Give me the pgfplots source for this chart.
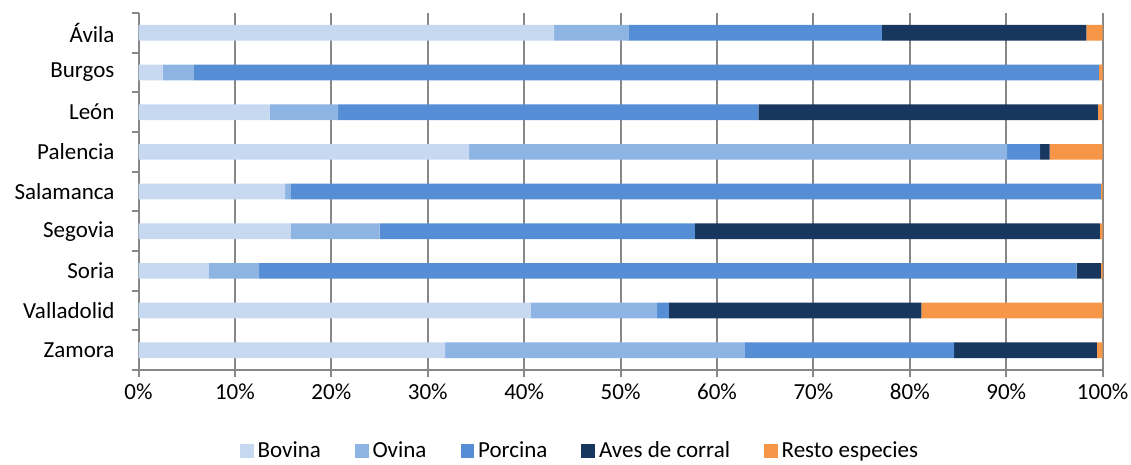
\documentclass[border=0pt]{standalone}
\usepackage{fontspec}
\setmainfont{Carlito}
\usepackage{pgfplots}
\usepackage{pgfplotstable}
\pgfplotsset{compat=1.18}

\definecolor{bovina}{HTML}{C6D9F1}
\definecolor{ovina}{HTML}{8EB4E3}
\definecolor{porcina}{HTML}{558ED5}
\definecolor{aves}{HTML}{17375E}
\definecolor{resto}{HTML}{F79646}
\definecolor{gridgray}{HTML}{878787}

% share of each species per province (%)
\pgfplotstableread{
idx bovina ovina porcina aves resto
0   43.1   7.7   26.3    21.2 1.7
1   2.5    3.2   93.9    0.0  0.4
2   13.6   7.1   43.6    35.2 0.5
3   34.3   55.8  3.4     1.0  5.5
4   15.2   0.6   84.0    0.0  0.2
5   15.8   9.2   32.7    42.0 0.3
6   7.3    5.2   84.8    2.5  0.2
7   40.7   13.1  1.2     26.2 18.8
8   31.8   31.1  21.7    14.8 0.6
}\provdata

\newcommand{\chartfont}{\fontsize{11.5}{13.8}\selectfont}

\begin{document}
\begin{tikzpicture}
\begin{axis}[name=ax, scale only axis, width=482pt, height=178.5pt,
  xbar stacked, bar width=7.85pt,
  xmin=0, xmax=100, ymin=-0.5, ymax=8.5, y dir=reverse,
  enlarge x limits=false, enlarge y limits=false,
  axis lines*=left,
  axis line style={gridgray, line width=1pt},
  xtick={0,10,...,100},
  xticklabels={0\%,10\%,20\%,30\%,40\%,50\%,60\%,70\%,80\%,90\%,100\%},
  ytick={-0.5,0.5,...,8.5}, yticklabels={},
  extra y ticks={0,...,8},
  extra y tick labels={Ávila,Burgos,León,Palencia,Salamanca,Segovia,Soria,Valladolid,Zamora},
  extra y tick style={major tick length=0pt, grid=none, yticklabel style={xshift=-8.5pt}},
  major tick length=3.5pt, tick align=outside,
  tick style={gridgray, line width=1pt},
  xmajorgrids, grid style={gridgray, line width=1pt},
  tick label style={font=\chartfont, text=black},
  legend columns=5,
  legend style={draw=none, fill=none, font=\chartfont,
    at={(0.459,0)}, anchor=center, yshift=-40.5pt,
    /tikz/every even column/.append style={column sep=15pt}},
  legend image code/.code={\fill[#1] (0pt,-3.4pt) rectangle (6.8pt,3.4pt);},
]
\addplot[fill=bovina, draw=none] table[x=bovina, y=idx] {\provdata};
\addlegendentry{Bovina}
\addplot[fill=ovina, draw=none] table[x=ovina, y=idx] {\provdata};
\addlegendentry{Ovina}
\addplot[fill=porcina, draw=none] table[x=porcina, y=idx] {\provdata};
\addlegendentry{Porcina}
\addplot[fill=aves, draw=none] table[x=aves, y=idx] {\provdata};
\addlegendentry{Aves de corral}
\addplot[fill=resto, draw=none] table[x=resto, y=idx] {\provdata};
\addlegendentry{Resto especies}
\end{axis}
\pgfresetboundingbox
\path[use as bounding box] ([xshift=-69.25pt,yshift=6.5pt]ax.north west)
  rectangle ([xshift=14.15pt,yshift=-47pt]ax.south east);
\end{tikzpicture}
\end{document}
